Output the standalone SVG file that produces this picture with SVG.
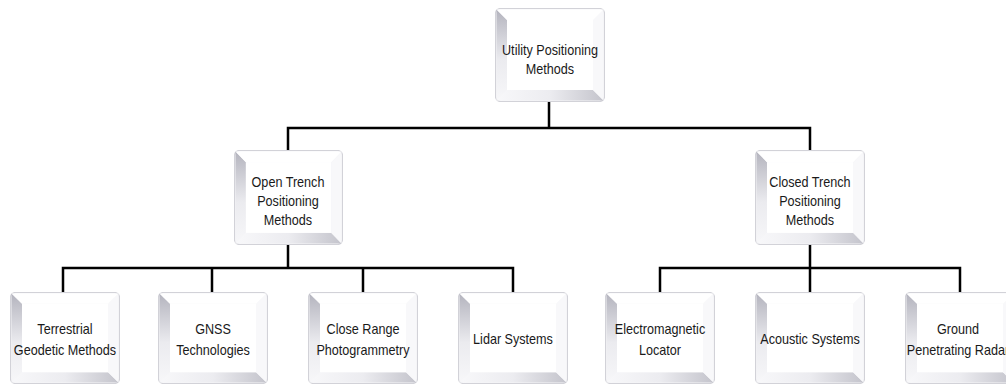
<svg xmlns="http://www.w3.org/2000/svg" xmlns:xlink="http://www.w3.org/1999/xlink" width="1006" height="387" viewBox="0 0 1006 387">
<defs>
<linearGradient id="gl" x1="0" y1="0" x2="0" y2="1">
<stop offset="0" stop-color="#b4b4be"/>
<stop offset="0.55" stop-color="#ebebef"/>
<stop offset="1" stop-color="#f7f7f9"/>
</linearGradient>
<linearGradient id="gb" x1="0" y1="0" x2="1" y2="0">
<stop offset="0" stop-color="#f8f8fa"/>
<stop offset="0.5" stop-color="#ececf0"/>
<stop offset="1" stop-color="#c4c4cc"/>
</linearGradient>
<symbol id="bevel" viewBox="0 0 110 94" preserveAspectRatio="none">
<rect x="0.5" y="0.5" width="109" height="93" rx="5" fill="#f6f6f8" stroke="#d2d2d8" stroke-width="1.2"/>
<polygon points="1.5,1.5 12,12 12,82 1.5,92.5" fill="url(#gl)"/>
<polygon points="1.5,92.5 12,82 98,82 108.5,92.5" fill="url(#gb)"/>
<polygon points="108.5,1.5 98,12 98,82 108.5,92.5" fill="#f8f8fa"/>
<polygon points="1.5,1.5 108.5,1.5 98,12 12,12" fill="#ffffff"/>
<rect x="12" y="12" width="86" height="70" fill="#ffffff"/>
</symbol>
</defs>
<style>
.lbl{font-family:"Liberation Sans",Arial,sans-serif;font-size:14.5px;fill:#1a1a1a;text-anchor:middle}
.c{stroke:#000;stroke-width:2.5;fill:none;stroke-linecap:square}
</style>
<rect width="1006" height="387" fill="#ffffff"/>
<g id="connectors">
<path class="c" d="M549,103 V128 M288,128 H810 M288,128 V150 M810,128 V150"/>
<path class="c" d="M288,245 V268 M63,268 H513 M63,268 V292 M212,268 V292 M363,268 V292 M513,268 V292"/>
<path class="c" d="M810,245 V268 M660,268 H960 M660,268 V292 M810,268 V292 M960,268 V292"/>
</g>
<g id="n-utility">
<use xlink:href="#bevel" x="495" y="8" width="110" height="94"/>
<g transform="translate(550,0) scale(0.87,1)">
<text class="lbl" x="0" y="55">Utility Positioning</text>
<text class="lbl" x="0" y="74">Methods</text>
</g>
</g>
<g id="n-open">
<use xlink:href="#bevel" x="234" y="150" width="109" height="95"/>
<g transform="translate(288,0) scale(0.87,1)">
<text class="lbl" x="0" y="187">Open Trench</text>
<text class="lbl" x="0" y="206">Positioning</text>
<text class="lbl" x="0" y="225">Methods</text>
</g>
</g>
<g id="n-closed">
<use xlink:href="#bevel" x="755" y="150" width="110" height="95"/>
<g transform="translate(810,0) scale(0.87,1)">
<text class="lbl" x="0" y="187">Closed Trench</text>
<text class="lbl" x="0" y="206">Positioning</text>
<text class="lbl" x="0" y="225">Methods</text>
</g>
</g>
<g id="n-terrestrial">
<use xlink:href="#bevel" x="10" y="292" width="110" height="92"/>
<g transform="translate(65,0) scale(0.87,1)">
<text class="lbl" x="0" y="334">Terrestrial</text>
<text class="lbl" x="0" y="355">Geodetic Methods</text>
</g>
</g>
<g id="n-gnss">
<use xlink:href="#bevel" x="158" y="292" width="110" height="92"/>
<g transform="translate(213,0) scale(0.87,1)">
<text class="lbl" x="0" y="334">GNSS</text>
<text class="lbl" x="0" y="355">Technologies</text>
</g>
</g>
<g id="n-photogrammetry">
<use xlink:href="#bevel" x="308" y="292" width="110" height="92"/>
<g transform="translate(363,0) scale(0.87,1)">
<text class="lbl" x="0" y="334">Close Range</text>
<text class="lbl" x="0" y="355">Photogrammetry</text>
</g>
</g>
<g id="n-lidar">
<use xlink:href="#bevel" x="458" y="292" width="110" height="92"/>
<g transform="translate(513,0) scale(0.87,1)">
<text class="lbl" x="0" y="344">Lidar Systems</text>
</g>
</g>
<g id="n-electromagnetic">
<use xlink:href="#bevel" x="605" y="292" width="110" height="92"/>
<g transform="translate(660,0) scale(0.87,1)">
<text class="lbl" x="0" y="334">Electromagnetic</text>
<text class="lbl" x="0" y="355">Locator</text>
</g>
</g>
<g id="n-acoustic">
<use xlink:href="#bevel" x="755" y="292" width="110" height="92"/>
<g transform="translate(810,0) scale(0.87,1)">
<text class="lbl" x="0" y="344">Acoustic Systems</text>
</g>
</g>
<g id="n-gpr">
<use xlink:href="#bevel" x="905" y="292" width="110" height="92"/>
<g transform="translate(958,0) scale(0.87,1)">
<text class="lbl" x="0" y="334">Ground</text>
<text class="lbl" x="0" y="355">Penetrating Radar</text>
</g>
</g>
</svg>
